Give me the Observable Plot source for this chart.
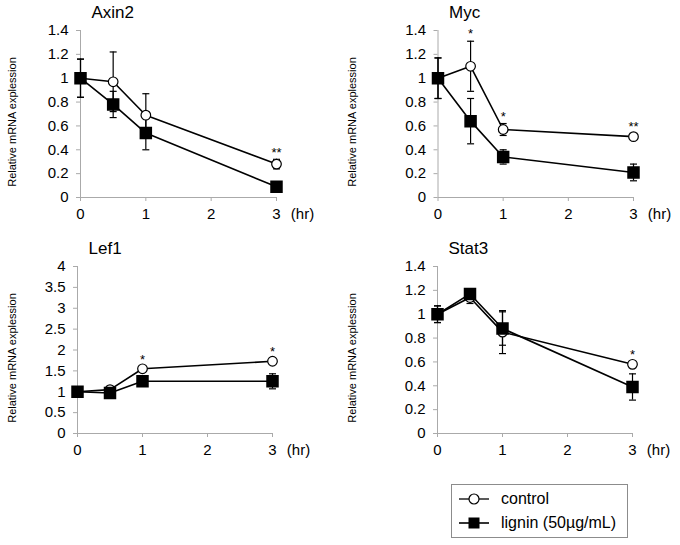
<!DOCTYPE html>
<html>
<head>
<meta charset="utf-8">
<script src="https://cdn.jsdelivr.net/npm/d3@7"></script>
<script src="https://cdn.jsdelivr.net/npm/@observablehq/plot@0.6"></script>
<style>
  html, body { margin: 0; padding: 0; background: #fff; }
  #wrap { position: relative; width: 680px; height: 545px; font-family: "Liberation Sans", Arial, sans-serif; }
  .panel { position: absolute; }
  #legend { position: absolute; left: 451px; top: 484px; width: 175px; height: 52px; border: 1px solid #8c8c8c; background: #fff; }
  .item { position: absolute; left: 0; height: 20px; display: flex; align-items: center; font-size: 16px; color: #000; }
  .item svg { margin-left: 7px; margin-right: 12px; }
</style>
</head>
<body>
<div id="wrap"></div>
<script>
// ---- data ----
const hours = [0, 0.5, 1, 3];
const xTicks = [0, 1, 2, 3];
const yTicksSmall = [0, 0.2, 0.4, 0.6, 0.8, 1, 1.2, 1.4];
const yTicksLef1 = [0, 0.5, 1, 1.5, 2, 2.5, 3, 3.5, 4];
const yLabel = "Relative mRNA explession";
const seriesNames = ["control", "lignin (50µg/mL)"];

const axin2Control    = [1.00, 0.97, 0.69, 0.28];
const axin2ControlErr = [0.16, 0.25, 0.18, 0.04];
const axin2Lignin     = [1.00, 0.78, 0.54, 0.09];
const axin2LigninErr  = [0.16, 0.11, 0.14, 0.02];
const axin2Sig        = ["", "", "", "**"];

const mycControl    = [1.00, 1.10, 0.57, 0.51];
const mycControlErr = [0.17, 0.21, 0.05, 0.02];
const mycLignin     = [1.00, 0.64, 0.34, 0.21];
const mycLigninErr  = [0.17, 0.19, 0.06, 0.07];
const mycSig        = ["", "*", "*", "**"];

const lef1Control    = [1.00, 1.05, 1.55, 1.73];
const lef1ControlErr = [0.03, 0.05, 0.05, 0.05];
const lef1Lignin     = [1.00, 0.97, 1.25, 1.25];
const lef1LigninErr  = [0.03, 0.04, 0.05, 0.18];
const lef1Sig        = ["", "", "*", "*"];

const stat3Control    = [1.00, 1.14, 0.85, 0.58];
const stat3ControlErr = [0.07, 0.05, 0.18, 0.02];
const stat3Lignin     = [1.00, 1.17, 0.88, 0.39];
const stat3LigninErr  = [0.07, 0.04, 0.14, 0.11];
const stat3Sig        = ["", "", "", "*"];

// ---- drawing ----
const capSymbol = { draw(ctx) { ctx.moveTo(-3.5, 0); ctx.lineTo(3.5, 0); } };
const FONT = "'Liberation Sans', Arial, sans-serif";

function panel({title, control, controlErr, lignin, ligninErr, sig, yMax, yTicks, left, top, ml, mr}) {
  const rows = hours.map((h, i) => ({h, c: control[i], ce: controlErr[i], l: lignin[i], le: ligninErr[i], s: sig[i]}));
  const fig = Plot.plot({
    width: 340, height: 230,
    marginLeft: ml, marginRight: mr, marginTop: 30, marginBottom: 33,
    style: {fontFamily: FONT, fontSize: "15px", color: "#000", background: "transparent", overflow: "visible"},
    x: {domain: [0, 3], label: null},
    y: {domain: [0, yMax], label: null},
    marks: [
      Plot.axisX({ticks: xTicks, tickFormat: d => String(d), tickSize: 4, tickPadding: 7, stroke: "#aaa", fill: "#000", label: null}),
      Plot.axisY({ticks: yTicks, tickFormat: d => String(d), tickSize: 4, tickPadding: 8, stroke: "#aaa", fill: "#000", label: null}),
      Plot.ruleX([0], {stroke: "#aaa"}),
      Plot.ruleY([0], {stroke: "#aaa"}),
      // error bars
      Plot.ruleX(rows, {x: "h", y1: d => d.c - d.ce, y2: d => d.c + d.ce, stroke: "#000", strokeWidth: 1.2}),
      Plot.dot(rows, {x: "h", y: d => d.c + d.ce, symbol: capSymbol, stroke: "#000", strokeWidth: 1.2}),
      Plot.dot(rows, {x: "h", y: d => d.c - d.ce, symbol: capSymbol, stroke: "#000", strokeWidth: 1.2}),
      Plot.ruleX(rows, {x: "h", y1: d => d.l - d.le, y2: d => d.l + d.le, stroke: "#000", strokeWidth: 1.2}),
      Plot.dot(rows, {x: "h", y: d => d.l + d.le, symbol: capSymbol, stroke: "#000", strokeWidth: 1.2}),
      Plot.dot(rows, {x: "h", y: d => d.l - d.le, symbol: capSymbol, stroke: "#000", strokeWidth: 1.2}),
      // lines
      Plot.line(rows, {x: "h", y: "c", stroke: "#000", strokeWidth: 1.6}),
      Plot.line(rows, {x: "h", y: "l", stroke: "#000", strokeWidth: 1.6}),
      // markers
      Plot.dot(rows, {x: "h", y: "c", r: 4.8, fill: "#fff", stroke: "#000", strokeWidth: 1.2}),
      Plot.dot(rows, {x: "h", y: "l", symbol: "square", r: 6.2, fill: "#000", stroke: "#000"}),
      // significance
      Plot.text(rows.filter(d => d.s), {x: "h", y: d => d.c + d.ce, text: "s", dy: -7, fontSize: 13}),
      // title, y label, unit
      Plot.text([title], {frameAnchor: "top-left", dx: 11, dy: -25, fontSize: 17, textAnchor: "start", lineAnchor: "top"}),
      Plot.text([yLabel], {frameAnchor: "left", rotate: -90, dx: -(ml - 12), dy: 8, fontSize: 11, textAnchor: "middle", lineAnchor: "middle"}),
      Plot.text(["(hr)"], {frameAnchor: "bottom-right", dx: 26, dy: 17, fontSize: 15, textAnchor: "middle", lineAnchor: "middle"})
    ]
  });
  fig.classList.add("panel");
  fig.style.left = left + "px";
  fig.style.top = top + "px";
  return fig;
}

const wrap = document.getElementById("wrap");
wrap.appendChild(panel({title: "Axin2", control: axin2Control, controlErr: axin2ControlErr, lignin: axin2Lignin, ligninErr: axin2LigninErr, sig: axin2Sig, yMax: 1.4, yTicks: yTicksSmall, left: 0, top: 0, ml: 80, mr: 64}));
wrap.appendChild(panel({title: "Myc", control: mycControl, controlErr: mycControlErr, lignin: mycLignin, ligninErr: mycLigninErr, sig: mycSig, yMax: 1.4, yTicks: yTicksSmall, left: 340, top: 0, ml: 97.5, mr: 47}));
wrap.appendChild(panel({title: "Lef1", control: lef1Control, controlErr: lef1ControlErr, lignin: lef1Lignin, ligninErr: lef1LigninErr, sig: lef1Sig, yMax: 4, yTicks: yTicksLef1, left: 0, top: 236, ml: 77, mr: 68}));
wrap.appendChild(panel({title: "Stat3", control: stat3Control, controlErr: stat3ControlErr, lignin: stat3Lignin, ligninErr: stat3LigninErr, sig: stat3Sig, yMax: 1.4, yTicks: yTicksSmall, left: 340, top: 236, ml: 97, mr: 48}));

// legend
const legend = document.createElement("div");
legend.id = "legend";
const markers = [
  '<svg width="30" height="14"><line x1="0" y1="7" x2="30" y2="7" stroke="#000" stroke-width="1.3"/><circle cx="15" cy="7" r="5" fill="#fff" stroke="#000" stroke-width="1.2"/></svg>',
  '<svg width="30" height="14"><line x1="0" y1="7" x2="30" y2="7" stroke="#000" stroke-width="1.6"/><rect x="9.5" y="1.5" width="11" height="11" fill="#000"/></svg>'
];
seriesNames.forEach((name, i) => {
  const it = document.createElement("div");
  it.className = "item";
  it.style.top = (4 + i * 24) + "px";
  it.innerHTML = markers[i] + "<span>" + name + "</span>";
  legend.appendChild(it);
});
wrap.appendChild(legend);
</script>
</body>
</html>
